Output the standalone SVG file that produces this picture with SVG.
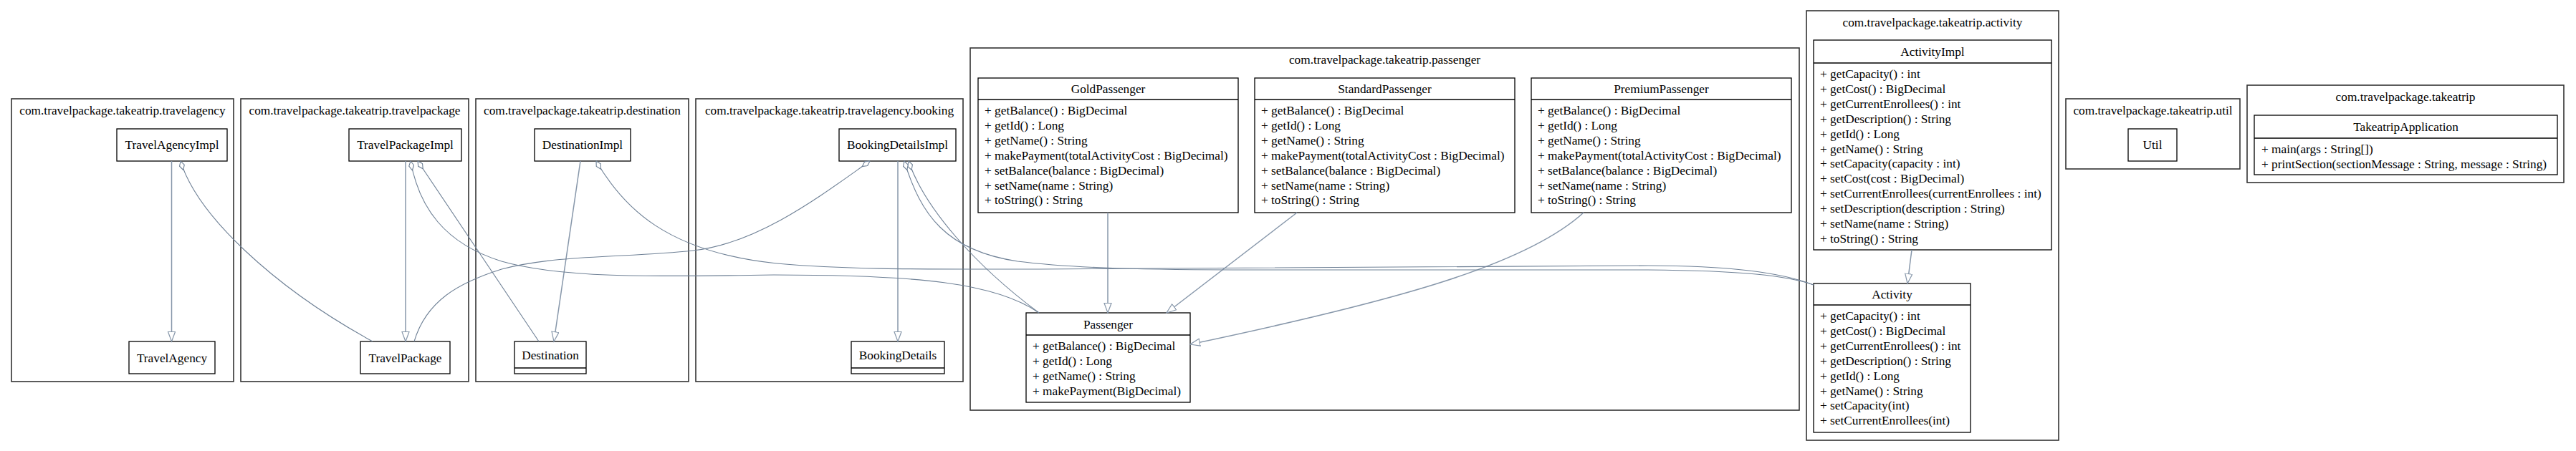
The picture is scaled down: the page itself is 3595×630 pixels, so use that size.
<svg xmlns="http://www.w3.org/2000/svg" width="3595" height="630" viewBox="0 0 3595 630">
<style>
.cl{fill:none;stroke:#333;stroke-width:1.6}
.nd{fill:#fff;stroke:#000;stroke-width:1.3}
.dv{stroke:#000;stroke-width:1.3}
text{font-family:"Liberation Serif","Times New Roman",serif;font-size:17.3px;fill:#000}
.c{text-anchor:middle}
.inh{fill:none;stroke:#8797aa;stroke-width:1.5;marker-end:url(#tri)}
.agg{fill:none;stroke:#6f8196;stroke-width:1.1;marker-start:url(#dia)}
</style>
<defs>
<marker id="tri" markerWidth="16" markerHeight="12" refX="14" refY="5.5" orient="auto" markerUnits="userSpaceOnUse"><path d="M0.5,0.5 L14,5.5 L0.5,10.5 z" fill="#fff" stroke="#8797aa" stroke-width="1.2"/></marker>
<marker id="dia" markerWidth="16" markerHeight="10" refX="0.5" refY="4" orient="auto" markerUnits="userSpaceOnUse"><path d="M0.5,4 L7,0.5 L13.5,4 L7,7.5 z" fill="#fff" stroke="#6f8196" stroke-width="1.1"/></marker>
</defs>
<rect width="3595" height="630" fill="#fff"/>
<g id="clusters">
<g id="cluster_travelagency"><rect class="cl" x="16" y="138" width="310" height="395"/><text class="c" x="171" y="160">com.travelpackage.takeatrip.travelagency</text></g>
<g id="cluster_travelpackage"><rect class="cl" x="336" y="138" width="318" height="395"/><text class="c" x="495" y="160">com.travelpackage.takeatrip.travelpackage</text></g>
<g id="cluster_destination"><rect class="cl" x="664" y="138" width="297" height="395"/><text class="c" x="812.5" y="160">com.travelpackage.takeatrip.destination</text></g>
<g id="cluster_booking"><rect class="cl" x="971" y="138" width="373" height="395"/><text class="c" x="1157.5" y="160">com.travelpackage.takeatrip.travelagency.booking</text></g>
<g id="cluster_passenger"><rect class="cl" x="1354" y="67" width="1157" height="506"/><text class="c" x="1932.5" y="89">com.travelpackage.takeatrip.passenger</text></g>
<g id="cluster_activity"><rect class="cl" x="2521" y="15" width="352" height="600"/><text class="c" x="2697" y="37">com.travelpackage.takeatrip.activity</text></g>
<g id="cluster_util"><rect class="cl" x="2883" y="138" width="243" height="98"/><text class="c" x="3004.5" y="160">com.travelpackage.takeatrip.util</text></g>
<g id="cluster_takeatrip"><rect class="cl" x="3136" y="119" width="442" height="136"/><text class="c" x="3357" y="141">com.travelpackage.takeatrip</text></g>
</g>
<g id="TravelAgencyImpl"><rect class="nd" x="163" y="180" width="154" height="45"/><text class="c" x="240" y="208">TravelAgencyImpl</text></g>
<g id="TravelAgency"><rect class="nd" x="180" y="477" width="120" height="45"/><text class="c" x="240" y="505.5">TravelAgency</text></g>
<g id="TravelPackageImpl"><rect class="nd" x="487" y="180" width="157" height="45"/><text class="c" x="565.5" y="208">TravelPackageImpl</text></g>
<g id="TravelPackage"><rect class="nd" x="503" y="477" width="125" height="45"/><text class="c" x="565.5" y="505.5">TravelPackage</text></g>
<g id="DestinationImpl"><rect class="nd" x="746" y="180" width="134" height="45"/><text class="c" x="813" y="208">DestinationImpl</text></g>
<g id="Destination"><rect class="nd" x="718" y="477" width="100" height="45"/><line class="dv" x1="718" y1="514" x2="818" y2="514"/><text class="c" x="768" y="501.5">Destination</text></g>
<g id="BookingDetailsImpl"><rect class="nd" x="1171" y="180" width="163" height="45"/><text class="c" x="1252.5" y="208">BookingDetailsImpl</text></g>
<g id="BookingDetails"><rect class="nd" x="1188" y="477" width="130" height="45"/><line class="dv" x1="1188" y1="514" x2="1318" y2="514"/><text class="c" x="1253" y="501.5">BookingDetails</text></g>
<g id="GoldPassenger"><rect class="nd" x="1365" y="109" width="363" height="188"/><line class="dv" x1="1365" y1="139" x2="1728" y2="139"/><text class="c" x="1546.5" y="130">GoldPassenger</text>
<text x="1374" y="160">+ getBalance() : BigDecimal</text><text x="1374" y="180.9">+ getId() : Long</text><text x="1374" y="201.8">+ getName() : String</text><text x="1374" y="222.7">+ makePayment(totalActivityCost : BigDecimal)</text><text x="1374" y="243.6">+ setBalance(balance : BigDecimal)</text><text x="1374" y="264.5">+ setName(name : String)</text><text x="1374" y="285.4">+ toString() : String</text></g>
<g id="StandardPassenger"><rect class="nd" x="1751" y="109" width="363" height="188"/><line class="dv" x1="1751" y1="139" x2="2114" y2="139"/><text class="c" x="1932.5" y="130">StandardPassenger</text>
<text x="1760" y="160">+ getBalance() : BigDecimal</text><text x="1760" y="180.9">+ getId() : Long</text><text x="1760" y="201.8">+ getName() : String</text><text x="1760" y="222.7">+ makePayment(totalActivityCost : BigDecimal)</text><text x="1760" y="243.6">+ setBalance(balance : BigDecimal)</text><text x="1760" y="264.5">+ setName(name : String)</text><text x="1760" y="285.4">+ toString() : String</text></g>
<g id="PremiumPassenger"><rect class="nd" x="2137" y="109" width="363" height="188"/><line class="dv" x1="2137" y1="139" x2="2500" y2="139"/><text class="c" x="2318.5" y="130">PremiumPassenger</text>
<text x="2146" y="160">+ getBalance() : BigDecimal</text><text x="2146" y="180.9">+ getId() : Long</text><text x="2146" y="201.8">+ getName() : String</text><text x="2146" y="222.7">+ makePayment(totalActivityCost : BigDecimal)</text><text x="2146" y="243.6">+ setBalance(balance : BigDecimal)</text><text x="2146" y="264.5">+ setName(name : String)</text><text x="2146" y="285.4">+ toString() : String</text></g>
<g id="Passenger"><rect class="nd" x="1432" y="437" width="229" height="125"/><line class="dv" x1="1432" y1="468" x2="1661" y2="468"/><text class="c" x="1546.5" y="458.5">Passenger</text>
<text x="1441" y="489">+ getBalance() : BigDecimal</text><text x="1441" y="509.9">+ getId() : Long</text><text x="1441" y="530.8">+ getName() : String</text><text x="1441" y="551.7">+ makePayment(BigDecimal)</text></g>
<g id="ActivityImpl"><rect class="nd" x="2531" y="56" width="332" height="293"/><line class="dv" x1="2531" y1="88" x2="2863" y2="88"/><text class="c" x="2697" y="78">ActivityImpl</text>
<text x="2540" y="109">+ getCapacity() : int</text><text x="2540" y="129.9">+ getCost() : BigDecimal</text><text x="2540" y="150.8">+ getCurrentEnrollees() : int</text><text x="2540" y="171.7">+ getDescription() : String</text><text x="2540" y="192.6">+ getId() : Long</text><text x="2540" y="213.5">+ getName() : String</text><text x="2540" y="234.4">+ setCapacity(capacity : int)</text><text x="2540" y="255.3">+ setCost(cost : BigDecimal)</text><text x="2540" y="276.2">+ setCurrentEnrollees(currentEnrollees : int)</text><text x="2540" y="297.1">+ setDescription(description : String)</text><text x="2540" y="318">+ setName(name : String)</text><text x="2540" y="338.9">+ toString() : String</text></g>
<g id="Activity"><rect class="nd" x="2531" y="396" width="219" height="208"/><line class="dv" x1="2531" y1="426" x2="2750" y2="426"/><text class="c" x="2640.5" y="417">Activity</text>
<text x="2540" y="447">+ getCapacity() : int</text><text x="2540" y="467.9">+ getCost() : BigDecimal</text><text x="2540" y="488.8">+ getCurrentEnrollees() : int</text><text x="2540" y="509.7">+ getDescription() : String</text><text x="2540" y="530.6">+ getId() : Long</text><text x="2540" y="551.5">+ getName() : String</text><text x="2540" y="572.4">+ setCapacity(int)</text><text x="2540" y="593.3">+ setCurrentEnrollees(int)</text></g>
<g id="Util"><rect class="nd" x="2970" y="180" width="68" height="45"/><text class="c" x="3004" y="208">Util</text></g>
<g id="TakeatripApplication"><rect class="nd" x="3146" y="161" width="423" height="83"/><line class="dv" x1="3146" y1="193" x2="3569" y2="193"/><text class="c" x="3357.5" y="183">TakeatripApplication</text>
<text x="3156" y="214">+ main(args : String[])</text><text x="3156" y="234.9">+ printSection(sectionMessage : String, message : String)</text></g>
<g id="connectors">
<path class="inh" d="M239.5,225 L239.5,477"/>
<path class="inh" d="M566,225 L566,477"/>
<path class="inh" d="M810,225 L773,477"/>
<path class="inh" d="M1253,225 L1253,477"/>
<path class="inh" d="M1546,297 L1546,437"/>
<path class="inh" d="M1810,297 L1628,437"/>
<path class="inh" d="M2210,297 C2130,370 1950,420 1661,481"/>
<path class="inh" d="M2668,349 L2662,396"/>
<path class="agg" d="M252,225 C275,300 380,400 520,477"/>
<path class="agg" d="M573,225 C585,290 620,340 700,365 C780,388 900,387 1080,384 C1280,384 1390,395 1450,437"/>
<path class="agg" d="M583,225 L752,477"/>
<path class="agg" d="M832,225 C870,290 930,352 1084,368 C1180,377 1300,376 1450,376 L2300,371 C2420,371 2490,382 2531,398"/>
<path class="agg" d="M1214,225 C1150,270 1060,340 967,350 C880,360 780,355 700,376 C640,395 595,420 578,477"/>
<path class="agg" d="M1268,225 C1290,290 1360,370 1450,437"/>
<path class="agg" d="M1262,225 C1285,300 1320,350 1420,365 C1500,375 1600,377 1750,377 L2300,377 C2430,378 2495,385 2531,398"/>
</g>
</svg>
